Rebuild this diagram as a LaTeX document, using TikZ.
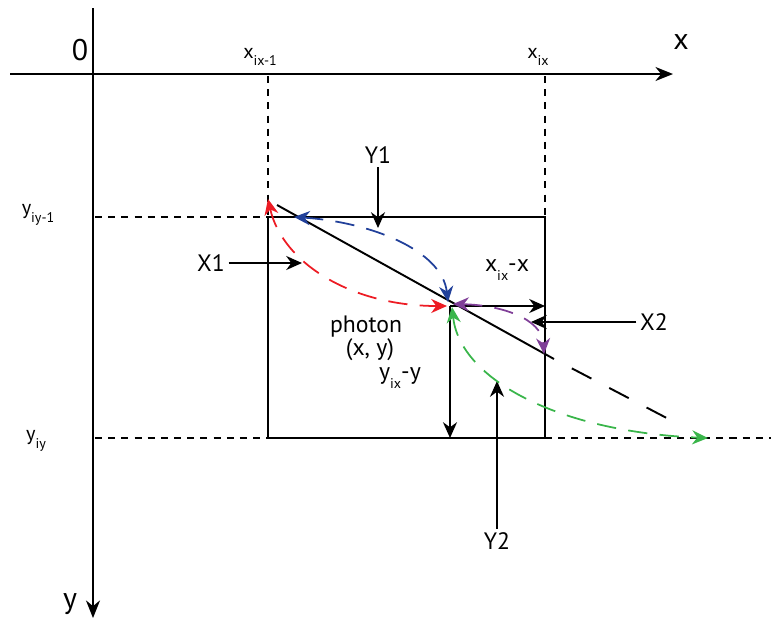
\documentclass[tikz,border=0pt]{standalone}
\usepackage{fontspec}
\setmainfont{PT Sans}
\usetikzlibrary{arrows.meta}
\newcommand\lsub[1]{\raisebox{-0.75ex}{\fontsize{8}{9}\selectfont #1}}
\definecolor{rred}{RGB}{237,28,36}
\definecolor{rblue}{RGB}{33,64,154}
\definecolor{rpurple}{RGB}{128,63,152}
\definecolor{rgreen}{RGB}{57,181,74}
\begin{document}
\begin{tikzpicture}[x=0.02cm,y=-0.02cm,
  axis/.style={line width=1.1pt,-{Stealth[length=10pt,width=8pt]}},
  boxline/.style={line width=1.1pt},
  guide/.style={line width=0.9pt,dash pattern=on 4pt off 3.5pt},
  arr/.style={line width=1.1pt,-{Stealth[length=9pt,width=8pt]}},
  ray/.style={line width=1pt,dash pattern=on 11pt off 7pt,
    {Stealth[length=9pt,width=8pt]}-{Stealth[length=9pt,width=8pt]}},
  lbl/.style={font=\fontsize{13.5}{16}\selectfont, inner sep=2pt},
  big/.style={font=\fontsize{17}{19}\selectfont, inner sep=0pt},
  tick/.style={font=\fontsize{11.5}{13}\selectfont, inner sep=0pt}]
\useasboundingbox (0,0) rectangle (771,626);
% axes
\coordinate (xs) at (10,74);
\coordinate (xe) at (673,74);
\coordinate (ys) at (93,8);
\coordinate (ye) at (93,618);
\draw[axis] (xs) -- (xe);
\draw[axis] (ys) -- (ye);
\node[big] (zero) at (80,50) {0};
\node[big] (xlab) at (681,42) {x};
\node[big] (ylab) at (70,604) {y};
\node[tick] (xim1) at (260,57) {x\lsub{ix-1}};
\node[tick] (xi) at (538,57) {x\lsub{ix}};
\node[tick] (yim1) at (38,215) {y\lsub{iy-1}};
\node[tick] (yi) at (36,441) {y\lsub{iy}};
% guides
\coordinate (gA) at (268,76);
\coordinate (gB) at (545,76);
\coordinate (A) at (268,217);
\coordinate (B) at (545,217);
\coordinate (C) at (545,438);
\coordinate (D) at (268,438);
\coordinate (yl1) at (95,217);
\coordinate (yl2) at (95,438);
\coordinate (yr2) at (771,438);
\draw[guide] (gA) -- (A);
\draw[guide] (gB) -- (B);
\draw[guide] (yl1) -- (A);
\draw[guide] (yl2) -- (D);
\draw[guide] (C) -- (yr2);
\draw[boxline] (A) -- (B) -- (C) -- (D) -- cycle;
% trajectory
\coordinate (L1) at (277,205);
\coordinate (L2) at (554,359);
\coordinate (L3) at (680,425);
\coordinate (P) at (450,306);
\draw[line width=1.1pt] (L1) -- (L2);
\draw[line width=1.1pt, dash pattern=on 12.5pt off 11.5pt, dash phase=12.5pt] (L2) -- (L3);
% distances
\coordinate (Pr) at (545,306);
\coordinate (Pd) at (450,438);
\draw[arr] (P) -- (Pr);
\draw[arr] (P) -- (Pd);
\node[lbl] (dx) at (507,270) {x\lsub{ix}-x};
\node[lbl] (dy) at (400,378) {y\lsub{ix}-y};
\node[lbl] (ph) at (366,327) {photon};
\node[lbl] (xy) at (370,350) {(x, y)};
% labels with arrows
\node[lbl] (Y1) at (378,155) {Y1};
\coordinate (Y1e) at (378,228);
\draw[arr] (Y1) -- (Y1e);
\node[lbl] (X1) at (211,263) {X1};
\coordinate (X1e) at (302,263);
\draw[arr] (X1) -- (X1e);
\node[lbl] (X2) at (654,322) {X2};
\coordinate (X2e) at (531,322);
\draw[arr] (X2) -- (X2e);
\node[lbl] (Y2) at (497,541) {Y2};
\coordinate (Y2e) at (497,381);
\draw[arr] (Y2) -- (Y2e);
% rays
\coordinate (rA) at (268,199);
\coordinate (rP1) at (447,306);
\draw[ray, rred] (rA) .. controls (282,262) and (350,306) .. (rP1);
\coordinate (bA) at (294,217);
\coordinate (bP) at (448,302);
\draw[ray, rblue] (bA) .. controls (370,222) and (442,250) .. (bP);
\coordinate (pP) at (453,304);
\coordinate (pE) at (544,354);
\draw[ray, rpurple] (pP) .. controls (500,305) and (542,318) .. (pE);
\coordinate (gP) at (452,307);
\coordinate (gE) at (708,438);
\draw[ray, rgreen] (gP) .. controls (460,380) and (560,432) .. (gE);
\end{tikzpicture}
\end{document}
